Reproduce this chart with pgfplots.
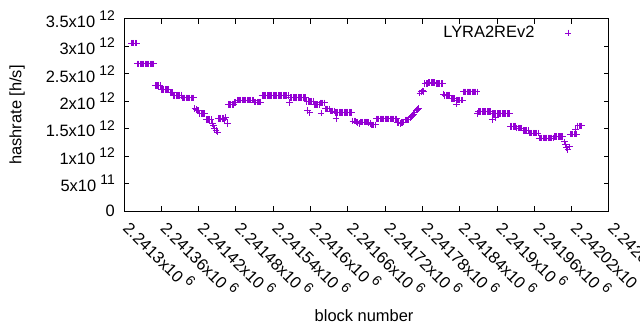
\documentclass[border=0pt]{standalone}
\usepackage{fontspec}
\setmainfont{Liberation Sans}
\usepackage{pgfplots}
\pgfplotsset{compat=1.18}
\definecolor{dv}{HTML}{9400D3}
\newcommand{\tp}[1]{\hspace{0.25em}\raisebox{0.42em}{\fontsize{14}{14}\selectfont #1}}
\newcommand{\fnt}{\fontsize{16.5}{19}\selectfont}
\begin{document}
\fnt
\begin{tikzpicture}
\useasboundingbox (0,0) rectangle (640bp,330bp);
\begin{axis}[
  at={(124bp,119bp)}, anchor=south west,
  scale only axis, width=485bp, height=192bp,
  xmin=0, xmax=780, ymin=0, ymax=3.5,
  xtick={0,60,...,780},
  xticklabels={2.2413x10\tp{6},2.24136x10\tp{6},2.24142x10\tp{6},2.24148x10\tp{6},2.24154x10\tp{6},2.2416x10\tp{6},2.24166x10\tp{6},2.24172x10\tp{6},2.24178x10\tp{6},2.24184x10\tp{6},2.2419x10\tp{6},2.24196x10\tp{6},2.24202x10\tp{6},2.24208x10\tp{6}},
  ytick={0,0.5,1,1.5,2,2.5,3,3.5},
  yticklabels={0,5x10\tp{11},1x10\tp{12},1.5x10\tp{12},2x10\tp{12},2.5x10\tp{12},3x10\tp{12},3.5x10\tp{12}},
  xticklabel style={font=\fnt, xshift=10bp, yshift=-5bp, rotate=-45, anchor=north west, inner sep=1bp},
  yticklabel style={font=\fnt, anchor=east, inner sep=1bp, xshift=-8bp},
  axis line style={line width=1bp},
  major tick style={line width=1bp, black},
  major tick length=5bp,
  xlabel={block number}, ylabel={hashrate [h/s]},
  xlabel style={font=\fnt, at={(axis description cs:0.495,-0.547)}, anchor=center},
  ylabel style={font=\fnt, at={(axis description cs:-0.2206,0.5)}, anchor=center, rotate=0},
  legend style={draw=none, fill=none, font=\fnt, at={(axis description cs:0.929,0.985)}, anchor=north east},
  legend plot pos=right,
  legend cell align=right,
  legend image code/.code={\path (0cm,0cm); \draw plot coordinates {(1.1cm,0cm)};},
]
\addplot[only marks, mark=+, mark size=3.3bp, color=dv, line width=1bp] coordinates {
(12,3.06)(14,3.06)(16,3.06)(18,3.06)(20,3.06)
(22,2.68)(24,2.68)(26,2.68)(28,2.68)(30,2.68)(32,2.68)(34,2.68)(36,2.68)(38,2.68)(40,2.68)(42,2.68)(44,2.68)(46,2.68)(48,2.68)
(50,2.29)(52,2.29)(54,2.29)(56,2.29)(58,2.29)
(60,2.22)(62,2.22)(64,2.22)(66,2.22)(68,2.22)(70,2.22)(72,2.22)
(74,2.16)(76,2.16)(78,2.16)
(80,2.11)(82,2.11)(84,2.11)(86,2.11)(88,2.11)(90,2.11)(92,2.11)
(94,2.06)(96,2.06)(98,2.06)(100,2.06)(102,2.06)(104,2.06)(106,2.06)(108,2.06)(110,2.06)(112,2.06)
(114,1.87)(116,1.85)(118,1.84)(120,1.83)
(122,1.78)(124,1.78)(126,1.78)(128,1.78)(130,1.78)
(132,1.67)(134,1.67)(136,1.67)(138,1.67)(140,1.67)
(142,1.60)(144,1.55)(146,1.50)(148,1.47)(150,1.44)
(152,1.69)(154,1.69)(156,1.69)(158,1.69)(160,1.69)
(162,1.66)(164,1.70)(166,1.60)
(168,1.94)(170,1.94)(172,1.94)(174,1.94)(176,1.94)
(178,1.98)(180,1.98)
(182,2.02)(184,2.02)(186,2.02)(188,2.02)(190,2.02)(192,2.02)(194,2.02)(196,2.02)(198,2.02)(200,2.02)(202,2.02)(204,2.02)(206,2.02)(208,2.02)
(210,1.985)(212,1.985)(214,1.985)(216,1.985)(218,1.985)(220,1.985)
(222,2.105)(224,2.105)(226,2.105)(228,2.105)(230,2.105)(232,2.105)(234,2.105)(236,2.105)(238,2.105)(240,2.105)(242,2.105)
(244,2.105)(246,2.105)(248,2.105)(250,2.105)(252,2.105)(254,2.105)(256,2.105)(258,2.105)(260,2.105)(262,2.105)(264,2.105)
(266,1.98)
(268,2.065)(270,2.065)(272,2.065)(274,2.065)(276,2.065)(278,2.065)(280,2.065)(282,2.065)(284,2.065)(286,2.065)(288,2.065)(290,2.065)(292,2.065)
(294,2.00)(296,2.00)(298,2.00)(300,2.00)(302,2.00)(304,2.00)(295,1.835)(299,1.79)
(306,1.94)(308,1.94)(310,1.94)(312,1.94)(314,1.94)
(316,1.97)(318,1.97)(320,1.97)(322,1.97)(317,1.785)
(324,1.86)(326,1.86)(328,1.86)(330,1.86)(332,1.82)(334,1.82)(336,1.82)(338,1.82)
(340,1.80)(342,1.80)(344,1.80)(346,1.80)(348,1.80)(350,1.80)(352,1.80)(354,1.80)(356,1.80)(358,1.80)(360,1.80)(362,1.80)(364,1.80)(366,1.80)(341,1.69)
(368,1.64)(370,1.64)(372,1.64)
(374,1.62)(376,1.61)(378,1.60)(380,1.62)(382,1.62)(384,1.62)(386,1.62)(388,1.62)(390,1.62)(392,1.62)(394,1.61)(396,1.60)
(398,1.57)(400,1.57)(402,1.57)(404,1.57)
(406,1.68)(408,1.68)(410,1.68)(412,1.68)(414,1.68)(416,1.68)(418,1.68)(420,1.68)(422,1.68)(424,1.68)(426,1.68)(428,1.68)(430,1.68)(432,1.68)(434,1.68)(436,1.68)(438,1.68)
(440,1.61)(442,1.61)(444,1.60)(446,1.61)(448,1.61)(450,1.62)
(452,1.66)(454,1.66)(456,1.66)(458,1.66)(460,1.70)(462,1.72)(464,1.74)(466,1.76)
(468,1.80)(470,1.84)(472,1.85)(474,1.87)
(476,2.15)(478,2.17)(480,2.19)(482,2.18)
(484,2.32)(486,2.32)(488,2.32)(490,2.345)(492,2.345)(494,2.345)(496,2.345)(498,2.345)(500,2.345)(502,2.32)(504,2.32)(506,2.32)(508,2.32)(510,2.32)(512,2.32)
(514,2.13)(516,2.11)(518,2.11)(520,2.11)(522,2.11)(524,2.11)
(526,2.05)(528,2.05)(530,2.05)(532,2.05)
(534,2.02)(536,2.02)(538,2.02)(540,2.02)(542,2.02)(544,2.02)(535,1.95)
(546,2.17)(548,2.17)(550,2.17)(552,2.17)(554,2.17)(556,2.17)(558,2.17)(560,2.17)(562,2.17)(564,2.17)(566,2.17)(568,2.17)
(569,1.78)(570,1.81)(572,1.81)(574,1.81)(576,1.81)(578,1.81)(580,1.81)(582,1.81)(584,1.81)(586,1.81)(588,1.81)(590,1.81)
(592,1.78)(594,1.78)(596,1.78)(598,1.78)(600,1.78)(602,1.78)(604,1.78)(606,1.78)(608,1.78)(610,1.78)(612,1.78)(614,1.78)(616,1.78)(618,1.78)(620,1.78)(593,1.67)(597,1.70)
(622,1.545)(624,1.545)(626,1.545)(628,1.545)(630,1.545)
(632,1.51)(634,1.51)(636,1.51)(638,1.51)(640,1.51)
(642,1.47)(644,1.47)(646,1.47)(648,1.47)(650,1.47)
(652,1.42)(654,1.42)(656,1.42)(658,1.42)(660,1.42)(662,1.42)(664,1.42)(666,1.42)
(668,1.33)(670,1.33)(672,1.33)(674,1.33)(676,1.33)(678,1.33)(680,1.33)(682,1.33)(684,1.33)(686,1.33)(688,1.33)(690,1.33)
(692,1.36)(694,1.36)(696,1.36)(698,1.36)(700,1.36)(702,1.36)(704,1.36)(706,1.36)
(708,1.26)(710,1.21)(712,1.16)(714,1.12)(716,1.17)
(718,1.40)(720,1.40)(722,1.40)(724,1.40)(726,1.40)(728,1.40)(726,1.49)
(730,1.55)(732,1.55)(734,1.55)(736,1.55)
};
\addlegendentry{LYRA2REv2}
\end{axis}
\end{tikzpicture}
\end{document}
